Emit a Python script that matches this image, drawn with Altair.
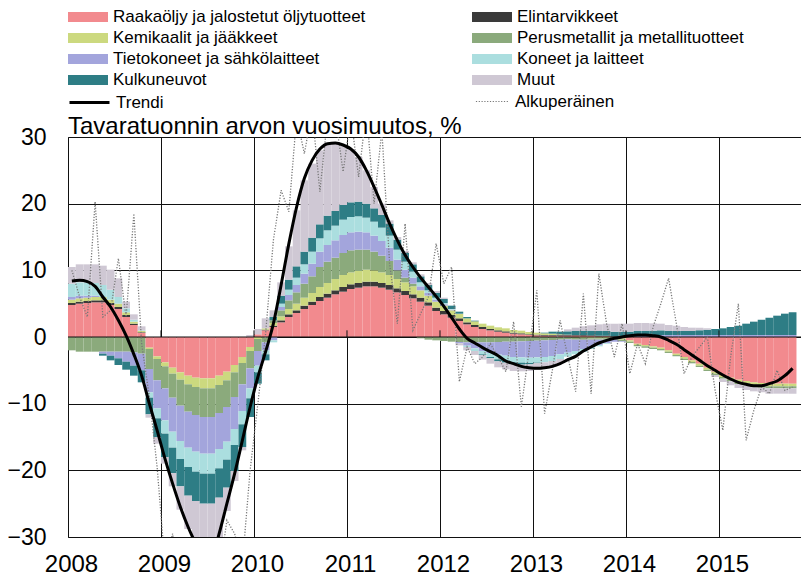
import altair as alt
import pandas as pd

FONT = "Liberation Sans, Arial, sans-serif"

chart_title = "Tavaratuonnin arvon vuosimuutos, %"
series = [
    "Raakaöljy ja jalostetut öljytuotteet",
    "Elintarvikkeet",
    "Kemikaalit ja jääkkeet",
    "Perusmetallit ja metallituotteet",
    "Tietokoneet ja sähkölaitteet",
    "Koneet ja laitteet",
    "Kulkuneuvot",
    "Muut",
]
colors = ["#F28A8E", "#3A3A3A", "#CCD97F", "#8BAA7C", "#A3A5DC", "#ABDEDF", "#2E7D85", "#CFC8D4"]

start_year = 2008
year_ticks = [2008, 2009, 2010, 2011, 2012, 2013, 2014, 2015]
y_ticks = [-30, -20, -10, 0, 10, 20, 30]

raakaoljy = [4.8, 5.0, 5.1, 5.2, 5.2, 4.8, 4.2, 3.0, 1.8, 0.6, -1.6, -2.9,
             -3.8, -4.6, -5.3, -5.8, -6.1, -6.2, -6.2, -5.8, -5.2, -4.2, -3.0, -1.5,
             0.4, 1.0, 1.5, 2.2, 3.0, 3.6, 4.2, 4.8, 5.4, 5.9, 6.4, 6.8,
             7.2, 7.4, 7.6, 7.6, 7.4, 7.1, 6.7, 6.3, 5.8, 5.3, 4.7, 3.9,
             3.4, 2.9, 2.4, 1.9, 1.5, 1.2, 1.0, 0.8, 0.65, 0.5, 0.4, 0.3,
             0.25, 0.2, 0.2, 0.2, 0.2, 0.2, 0.2, 0.15, 0.1, 0.1, 0.0, -0.2,
             -0.5, -1.0, -1.2, -1.4, -1.6, -2.0, -2.5, -3.0, -3.5, -4.0, -4.6, -5.2,
             -5.7, -6.1, -6.4, -6.6, -6.8, -6.9, -7.0, -7.0, -7.0, -7.0]
elintarvikkeet = [0.3, 0.3, 0.3, 0.3, 0.3, 0.3, 0.3, 0.3, 0.2, 0.1, 0.0, 0.0,
                  0, 0, 0, 0, 0, 0, 0, 0, 0, 0, 0, 0,
                  0.0, 0.1, 0.2, 0.3, 0.4, 0.4, 0.5, 0.5, 0.6, 0.6, 0.6, 0.7,
                  0.7, 0.7, 0.7, 0.7, 0.7, 0.7, 0.6, 0.6, 0.6, 0.6, 0.5, 0.5,
                  0.5, 0.4, 0.4, 0.3, 0.3, 0.3, 0.2, 0.2, 0.2, 0.15, 0.15, 0.1,
                  0.1, 0.1, 0.1, 0.1, 0.1, 0.1, 0.1, 0.1, 0.1, 0.1, 0.1, 0.1,
                  0, 0, 0, 0, 0, 0, 0, 0, 0, 0, 0, 0,
                  0, 0, 0, 0, 0, 0, 0, 0, 0, 0]
kemikaalit = [0.5, 0.5, 0.5, 0.5, 0.5, 0.5, 0.5, 0.4, 0.3, 0.2, -0.2, -0.4,
              -0.6, -0.9, -1.1, -1.3, -1.4, -1.5, -1.5, -1.4, -1.3, -1.1, -0.9, -0.6,
              -0.3, 0.2, 0.4, 0.6, 0.8, 1.0, 1.2, 1.3, 1.5, 1.6, 1.7, 1.8,
              1.8, 1.8, 1.8, 1.7, 1.6, 1.5, 1.4, 1.3, 1.2, 1.1, 1.0, 0.9,
              0.8, 0.7, 0.65, 0.6, 0.55, 0.5, 0.5, 0.45, 0.45, 0.4, 0.4, 0.35,
              0.3, 0.25, 0.2, 0.1, 0.05, -0.1, -0.15, -0.2, -0.2, -0.2, -0.2, -0.2,
              -0.2, -0.2, -0.2, -0.2, -0.2, -0.2, -0.2, -0.25, -0.25, -0.3, -0.3, -0.3,
              -0.3, -0.3, -0.35, -0.35, -0.35, -0.4, -0.4, -0.4, -0.4, -0.4]
perusmetallit = [-2.0, -2.2, -2.2, -2.2, -2.2, -2.2, -2.2, -2.2, -2.3, -2.5, -3.0, -3.2,
                 -3.3, -3.6, -3.9, -4.1, -4.2, -4.3, -4.3, -4.2, -4.0, -3.7, -3.2, -2.6,
                 -1.8, -0.8, 0.4, 0.9, 1.3, 1.7, 2.1, 2.5, 3.0, 3.2, 3.2, 3.3,
                 3.3, 3.2, 3.0, 2.8, 2.5, 2.1, 1.3, 0.7, 0.4, -0.2, -0.4, -0.5,
                 -0.6, -0.7, -0.75, -0.8, -0.8, -0.8, -0.8, -0.75, -0.7, -0.7, -0.65, -0.6,
                 -0.55, -0.5, -0.45, -0.4, -0.35, -0.3, -0.25, -0.2, -0.2, -0.2, -0.2, -0.2,
                 -0.2, -0.2, -0.2, -0.2, -0.2, -0.2, -0.2, -0.2, -0.2, -0.2, -0.2, -0.2,
                 -0.25, -0.25, -0.3, -0.3, -0.3, -0.3, -0.3, -0.3, -0.3, -0.3]
tietokoneet = [0.4, 0.4, 0.3, 0.2, -0.3, -0.6, -1.0, -1.5, -2.0, -2.5, -3.5, -4.2,
               -4.8, -5.1, -5.3, -5.4, -5.5, -5.5, -5.5, -5.4, -5.2, -4.8, -4.0, -3.0,
               -2.2, -1.2, -0.5, 0.5, 0.8, 1.1, 1.5, 1.9, 2.3, 2.5, 2.6, 2.7,
               2.7, 2.7, 2.6, 2.4, 2.2, 2.0, 1.6, 1.2, 0.9, 0.6, 0.4, 0.3,
               0.2, 0.1, -0.2, -0.5, -0.9, -1.3, -1.6, -1.9, -2.1, -2.3, -2.4, -2.5,
               -2.5, -2.5, -2.4, -2.2, -2.0, -1.7, -1.4, -1.1, -0.8, -0.5, -0.3, -0.1,
               0.1, 0.2, 0.2, 0.25, 0.3, 0.3, 0.3, 0.3, 0.3, 0.3, 0.3, 0.3,
               0.3, 0.3, 0.3, 0.3, 0.3, 0.3, 0.3, 0.3, 0.3, 0.3]
koneet = [2.0, 2.0, 2.0, 1.9, 1.8, 1.5, 1.0, 0.6, 0.3, 0.1, -0.8, -1.5,
          -2.0, -2.4, -2.7, -2.9, -3.0, -3.0, -3.0, -2.9, -2.7, -2.4, -2.0, -1.5,
          -1.0, -0.6, -0.3, 0.5, 0.8, 1.1, 1.4, 1.8, 2.0, 2.2, 2.2, 2.3,
          2.3, 2.3, 2.2, 2.1, 2.0, 1.8, 1.5, 1.2, 0.9, 0.6, 0.4, 0.3,
          0.2, 0.1, 0.05, -0.2, -0.4, -0.5, -0.6, -0.7, -0.75, -0.8, -0.8, -0.8,
          -0.8, -0.8, -0.75, -0.7, -0.6, -0.5, -0.4, -0.3, -0.2, -0.1, 0.0, 0.0,
          0, 0, 0, 0, 0, 0, 0, 0, 0, 0, 0, 0,
          0, 0, 0, 0, 0, 0, 0, 0, 0, 0]
kulkuneuvot = [0.0, 0.0, 0.0, 0.0, -0.3, -0.7, -1.0, -1.2, -1.5, -1.8, -2.5, -2.8,
               -3.5, -3.8, -4.1, -4.3, -4.4, -4.5, -4.5, -4.4, -4.2, -3.9, -3.4, -2.8,
               -1.7, -0.9, 0.5, 1.2, 1.5, 1.7, 1.9, 2.1, 2.1, 2.2, 2.2, 2.2,
               2.2, 2.2, 2.1, 2.0, 1.9, 1.8, 1.5, 1.3, 1.1, 0.9, 0.8, 0.7,
               0.6, 0.5, 0.3, 0.2, 0.1, -0.1, -0.2, -0.3, -0.3, -0.3, -0.3, -0.2,
               -0.1, 0.1, 0.3, 0.4, 0.5, 0.6, 0.6, 0.7, 0.7, 0.7, 0.7, 0.7,
               0.7, 0.7, 0.7, 0.7, 0.7, 0.6, 0.6, 0.6, 0.6, 0.7, 0.8, 0.9,
               1.0, 1.2, 1.4, 1.7, 2.0, 2.3, 2.6, 2.9, 3.2, 3.4]
muut = [2.5, 2.7, 2.7, 2.8, 2.9, 3.0, 2.8, 1.0, 0.8, 0.6, -0.5, -1.0,
        -1.0, -2.0, -3.5, -5.0, -6.5, -8.0, -8.2, -6.0, -3.5, -1.5, -0.5, 0.3,
        0.8, 1.5, 1.0, 2.0, 5.0, 8.4, 10.7, 11.1, 11.1, 10.8, 10.2, 9.0,
        8.0, 6.7, 5.0, 3.2, 1.7, 0.5, 0.4, 0.3, 0.3, 0.3, 0.3, 0.3,
        0.2, 0.0, -0.3, -0.5, -0.6, -0.7, -0.8, -0.9, -1.0, -1.0, -1.0, -1.0,
        -1.0, -0.9, -0.8, -0.6, 0.3, 0.5, 0.7, 0.8, 1.0, 1.1, 1.2, 1.2,
        1.2, 1.2, 1.2, 1.1, 1.0, 0.9, 0.8, 0.6, 0.5, 0.4, 0.2, -0.3,
        -0.5, -0.6, -0.6, -0.7, -0.7, -0.7, -0.8, -0.8, -0.8, -0.8]

trendi = [8.4, 8.5, 8.3, 7.6, 6.0, 4.5, 2.5, 0.2, -2.6, -5.8, -10.0, -14.0,
          -18.2, -22.0, -25.5, -28.5, -31.0, -33.0, -33.2, -29.5, -25.0, -20.5, -15.5, -10.5,
          -6.0, -2.2, 2.0, 7.8, 14.0, 19.5, 23.8, 26.5, 28.2, 29.0, 29.1, 28.8,
          28.2, 27.0, 25.0, 22.5, 19.8, 17.0, 14.5, 12.3, 10.5, 8.9, 7.5, 6.1,
          4.6, 2.9, 1.2, -0.2, -0.9, -1.6, -2.2, -2.8, -3.6, -4.0, -4.4, -4.6,
          -4.7, -4.6, -4.4, -4.0, -3.4, -2.9, -2.1, -1.5, -0.9, -0.5, -0.2, 0.0,
          0.2, 0.3, 0.3, 0.2, 0.0, -0.5, -1.1, -1.9, -2.7, -3.5, -4.3, -5.0,
          -5.7, -6.3, -6.8, -7.1, -7.3, -7.3, -7.0, -6.6, -5.8, -4.7]
alkuperainen = [10, 6, 3, 20.3, 3, 4, 11.8, 3, 18.5, -1, -9, -19.5,
                -34, -29.5, -38, -40, -42, -40, -40, -36, -27.5, -29.5, -34, -20,
                -10, 0.5, 14.5, 22, 18.8, 33, 27.5, 34, 21.8, 33, 33, 24.8,
                33, 24, 34, 20, 31, 11, 2, 17, 1, 3.5, 6, 14,
                8, 10.5, -6.7, -1.5, -4, -3, -1, -3, -5.2, 2.3, -10.5, -2,
                7, -11.5, -5, 2.5, -3, -8.2, 6.5, -8.5, 9.5, 2, -3, 2,
                -5.5, -1, -4, 1.5, 5, 8.8, 2, -5.5, -3, -1.5, 0, -8,
                -14, -3, 5, -15.5, -11, -7.5, -8.5, -5, -8, -7.5]

all_series = [raakaoljy, elintarvikkeet, kemikaalit, perusmetallit,
              tietokoneet, koneet, kulkuneuvot, muut]

# stacked table: positive and negative parts stacked separately, in legend order
n = len(trendi)
rows = []
for i in range(n):
    pos, neg = 0.0, 0.0
    for k, (name, vals) in enumerate(zip(series, all_series)):
        v = vals[i]
        if v >= 0:
            y0, y1 = pos, pos + v
            pos = y1
        else:
            y0, y1 = neg, neg + v
            neg = y1
        rows.append({"t0": start_year + i / 12, "t1": start_year + (i + 1) / 12,
                     "series": name, "k": k, "y0": y0, "y1": y1})
bar_df = pd.DataFrame(rows)

line_df = pd.DataFrame({
    "t": [start_year + (i + 0.5) / 12 for i in range(n)],
    "trendi": trendi,
    "alkuperainen": alkuperainen,
    "tname": ["Trendi"] * n,
    "oname": ["Alkuperäinen"] * n,
})

PLOT_W, PLOT_H = 733, 400
x_scale = alt.Scale(domain=[2008, 2015.882], nice=False, zero=False)
y_scale = alt.Scale(domain=[-30, 30], nice=False, zero=False)

x_axis = alt.Axis(values=year_ticks, format="d", title=None, grid=True, gridColor="#111",
                  gridWidth=1, ticks=False, domain=False, labelFont=FONT, labelFontSize=24,
                  labelColor="black", labelPadding=15, labelFlush=False, labelOffset=3)
y_axis = alt.Axis(values=y_ticks, title=None, grid=True, gridColor="#111", gridWidth=1,
                  ticks=False, domain=True, domainColor="#111", domainWidth=1,
                  labelFont=FONT, labelFontSize=23, labelColor="black", labelPadding=22)

bars = alt.Chart(bar_df).mark_bar(clip=True, strokeWidth=0).encode(
    x=alt.X("t0:Q", scale=x_scale, axis=x_axis),
    x2="t1:Q",
    y=alt.Y("y0:Q", scale=y_scale, axis=y_axis),
    y2="y1:Q",
    fill=alt.Fill("series:N", scale=alt.Scale(domain=series, range=colors),
                  legend=alt.Legend(orient="none", legendX=10, legendY=-130, columns=2,
                                    direction="horizontal",
                                    columnPadding=106, rowPadding=3, padding=0,
                                    symbolType="M-2,-0.5L2,-0.5L2,0.5L-2,0.5Z",
                                    symbolSize=400, symbolStrokeWidth=0,
                                    labelFont=FONT, labelFontSize=17, labelColor="black",
                                    labelOffset=15, labelLimit=0, title=None)),
)

zero_df = pd.DataFrame({"y": [0]})
zero_line = alt.Chart(zero_df).mark_rule(color="#111", strokeWidth=1.2).encode(
    y=alt.Y("y:Q", scale=y_scale))

tick_df = pd.DataFrame({"x": year_ticks[1:], "y0": [0] * 7, "y1": [1] * 7})
zero_ticks = alt.Chart(tick_df).mark_rule(color="#111", strokeWidth=1).encode(
    x=alt.X("x:Q", scale=x_scale), y=alt.Y("y0:Q", scale=y_scale), y2="y1:Q")

orig_line = alt.Chart(line_df).mark_line(clip=True, color="#777777", strokeWidth=1.3).encode(
    x=alt.X("t:Q", scale=x_scale),
    y=alt.Y("alkuperainen:Q", scale=y_scale),
    strokeDash=alt.StrokeDash("oname:N", scale=alt.Scale(domain=["Alkuperäinen"], range=[[1.2, 1.6]]),
                              legend=alt.Legend(orient="none", legendX=407, legendY=-53, padding=0,
                                                symbolType="stroke", symbolSize=1100,
                                                symbolStrokeColor="#777777", symbolStrokeWidth=1.2,
                                                labelFont=FONT, labelFontSize=17, labelColor="black",
                                                labelOffset=5, title=None)),
)

trend_line = alt.Chart(line_df).mark_line(clip=True, strokeWidth=3, interpolate="monotone").encode(
    x=alt.X("t:Q", scale=x_scale),
    y=alt.Y("trendi:Q", scale=y_scale),
    stroke=alt.Stroke("tname:N", scale=alt.Scale(domain=["Trendi"], range=["black"]),
                      legend=alt.Legend(orient="none", legendX=0, legendY=-56, padding=0,
                                        symbolType="stroke", symbolSize=1600,
                                        symbolStrokeWidth=3,
                                        labelFont=FONT, labelFontSize=17, labelColor="black",
                                        labelOffset=5, title=None)),
)

title_df = pd.DataFrame({"text": [chart_title]})
title_mark = alt.Chart(title_df).mark_text(
    align="left", baseline="alphabetic", font=FONT, fontSize=24, color="black"
).encode(x=alt.value(0), y=alt.value(-3), text="text:N")

chart = alt.layer(bars, zero_line, zero_ticks, orig_line, trend_line, title_mark).properties(
    width=PLOT_W, height=PLOT_H,
    autosize=alt.AutoSizeParams(type="none"),
    padding={"left": 60, "top": 129, "right": 0, "bottom": 38},
).configure_view(stroke=None).configure(background="white")

chart.save("out.html", embed_options={"renderer": "svg", "actions": False})
